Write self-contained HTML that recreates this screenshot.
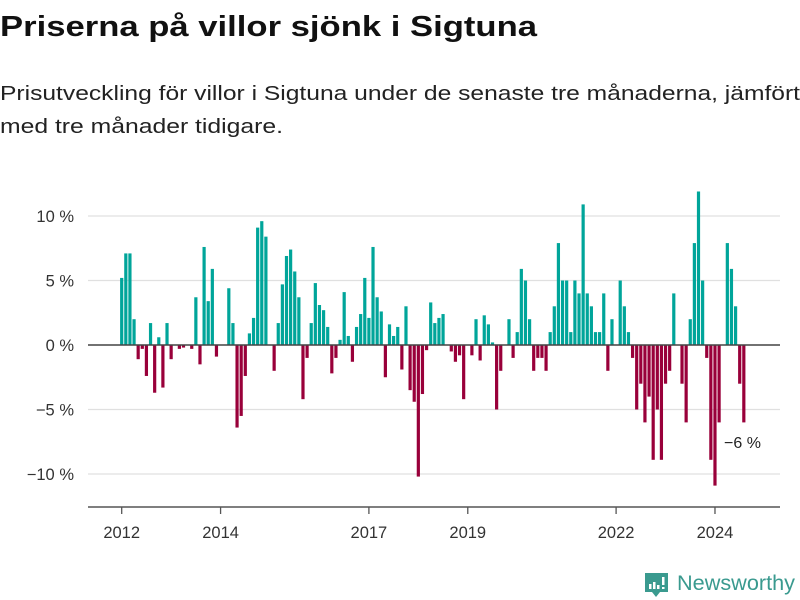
<!DOCTYPE html>
<html><head><meta charset="utf-8"><style>
body{margin:0;background:#fff;width:800px;height:600px;overflow:hidden;font-family:"Liberation Sans",sans-serif}
svg{display:block}
</style></head><body>
<svg id="chart" width="800" height="600" viewBox="0 0 800 600">
<text x="0" y="36" font-size="29" font-weight="bold" fill="#111" textLength="537" lengthAdjust="spacingAndGlyphs">Priserna på villor sjönk i Sigtuna</text>
<text x="0" y="100" font-size="20" fill="#222" textLength="800" lengthAdjust="spacingAndGlyphs">Prisutveckling för villor i Sigtuna under de senaste tre månaderna, jämfört</text>
<text x="0" y="133" font-size="20" fill="#222" textLength="283" lengthAdjust="spacingAndGlyphs">med tre månader tidigare.</text>
<g id="grid"></g><g id="bars"></g><g id="axes"></g>
<text x="724" y="448" font-size="16" fill="#222">−6 %</text>
<g>
<path d="M645 573 h23 v19 h-8 l-4 5 l-4 -5 h-7 z" fill="#3a9a8f"/>
<rect x="649" y="584" width="2.5" height="5" fill="#fff"/><rect x="653" y="582" width="2.5" height="7" fill="#fff"/><rect x="657" y="585" width="2.5" height="4" fill="#fff"/><rect x="662" y="577" width="2.5" height="8" fill="#fff"/><rect x="662" y="587" width="2.5" height="2" fill="#fff"/>
<text x="677" y="590" font-size="21" fill="#3a9a8f" textLength="118" lengthAdjust="spacingAndGlyphs">Newsworthy</text>
</g>
</svg>
<script>
const values = [5.2,7.1,7.1,2.0,-1.1,-0.3,-2.4,1.7,-3.7,0.6,-3.3,1.7,-1.1,0,-0.3,-0.2,0,-0.3,3.7,-1.5,7.6,3.4,5.9,-0.9,0,0,4.4,1.7,-6.4,-5.5,-2.4,0.9,2.1,9.1,9.6,8.4,0,-2.0,1.7,4.7,6.9,7.4,5.7,3.7,-4.2,-1.0,1.7,4.8,3.1,2.7,1.4,-2.2,-1.0,0.4,4.1,0.7,-1.3,1.4,2.4,5.2,2.1,7.6,3.7,2.6,-2.5,1.6,0.7,1.4,-1.9,3.0,-3.5,-4.4,-10.2,-3.8,-0.4,3.3,1.7,2.1,2.4,0,-0.5,-1.3,-0.8,-4.2,0,-0.8,2.0,-1.2,2.3,1.6,0.2,-5.0,-2.0,0,2.0,-1.0,1.0,5.9,5.0,2.0,-2.0,-1.0,-1.0,-2.0,1.0,3.0,7.9,5.0,5.0,1.0,5.0,4.0,10.9,4.0,3.0,1.0,1.0,4.0,-2.0,2.0,0,5.0,3.0,1.0,-1.0,-5.0,-3.0,-6.0,-4.0,-8.9,-5.0,-8.9,-3.0,-2.0,4.0,0,-3.0,-6.0,2.0,7.9,11.9,5.0,-1.0,-8.9,-10.9,-6.0,0,7.9,5.9,3.0,-3.0,-6.0];
const startYear = 2012;
const yTicks = [10,5,0,-5,-10];
const yTickLabels = ["10 %","5 %","0 %","−5 %","−10 %"];
const xTickYears = [2012,2014,2017,2019,2022,2024];
const NS="http://www.w3.org/2000/svg";
const y = v => 345 - v*12.9;
const x = i => 121.7 + i*4.12;
function mk(tag, attrs, parent){const e=document.createElementNS(NS,tag);for(const k in attrs)e.setAttribute(k,attrs[k]);parent.appendChild(e);return e;}
const grid=document.getElementById('grid'), bars=document.getElementById('bars'), axes=document.getElementById('axes');
yTicks.forEach((t,k)=>{
  if(t!==0){const l=mk('line',{x1:88,x2:780,y1:y(t),y2:y(t),stroke:'#e0e0e0','stroke-width':1.3},grid);
  
  }
  const tx=mk('text',{x:74,y:y(t)+6,'text-anchor':'end','font-size':16.5,fill:'#333'},grid);
  tx.textContent=yTickLabels[k];
  
  
});
values.forEach((v,i)=>{
  const r=mk('rect',{x:x(i)-1.6,width:3.2,y:Math.min(y(0),y(v)),height:Math.abs(y(v)-y(0)),fill:v>=0?'#00a59a':'#99003a'},bars);
  
  
});
const z=mk('line',{x1:88,x2:780,y1:y(0),y2:y(0),stroke:'#444','stroke-width':1.6},axes);


const xa=mk('line',{x1:88,x2:780,y1:507,y2:507,stroke:'#555','stroke-width':1.6},axes);


xTickYears.forEach(yr=>{
  const px=x((yr-startYear)*12);
  const t=mk('line',{x1:px,x2:px,y1:507,y2:514,stroke:'#555','stroke-width':1.3},axes);
  
  
  const tx=mk('text',{x:px,y:538,'text-anchor':'middle','font-size':16.5,fill:'#333'},axes);
  tx.textContent=yr;
  
  
});
</script>
</body></html>
